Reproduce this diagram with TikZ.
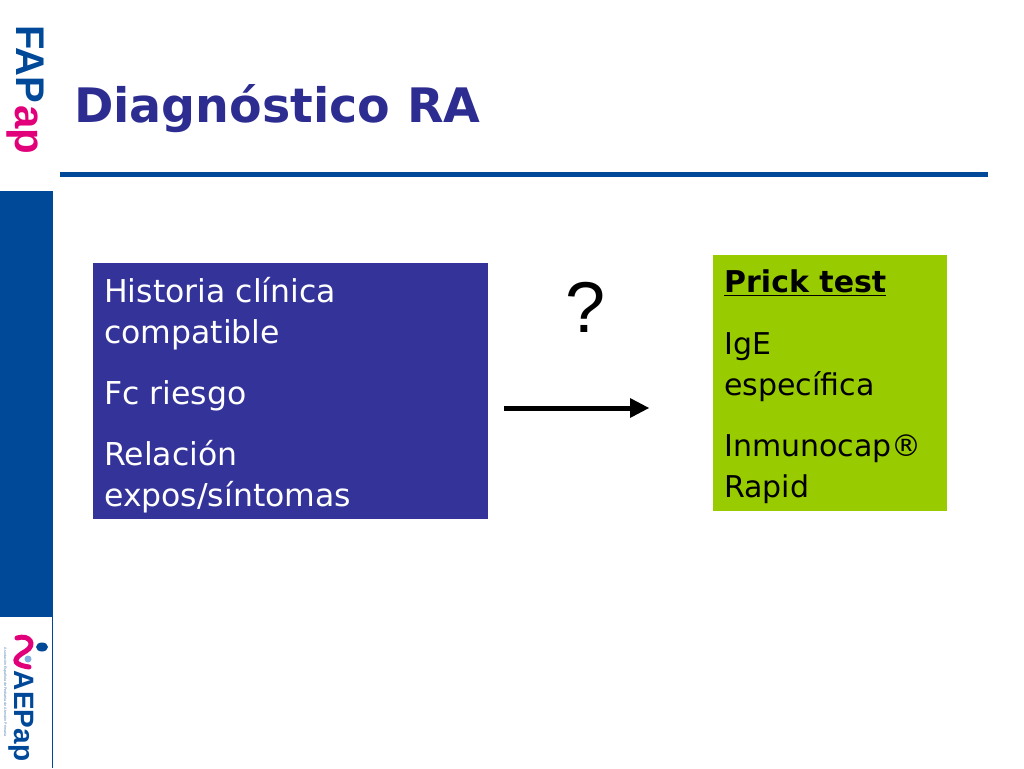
\documentclass[tikz,border=0pt]{standalone}
\usepackage{fontspec}
\usepackage{tikz}
\setmainfont{DejaVu Sans}
\newfontfamily\arialfont{Liberation Sans}
\definecolor{fapblue}{RGB}{0,72,152}
\definecolor{titleblue}{RGB}{45,45,145}
\definecolor{boxblue}{RGB}{51,51,153}
\definecolor{boxgreen}{RGB}{153,204,0}
\definecolor{logopink}{RGB}{226,0,122}
\definecolor{logolight}{RGB}{130,175,225}
\tikzset{
  infobox/.style={anchor=north west,inner sep=0pt,align=left,font=\fontsize{31.5}{41}\selectfont},
  logotext/.style={rotate=-90,inner sep=0pt,font=\bfseries}
}

\begin{document}
\begin{tikzpicture}[x=1pt,y=-1pt]
  \useasboundingbox (0,0) rectangle (1024,768);
  % side band and logos
  \fill[fapblue] (0,191) rectangle (52.5,617);
  \draw[fapblue,line width=0.8pt] (52.5,617) -- (52.5,768);
  \node[logotext,text=fapblue,font=\fontsize{40}{40}\selectfont\bfseries\arialfont] (fap) at (30,64) {FAP};
  \node[logotext,text=logopink,font=\fontsize{42}{42}\selectfont\bfseries\arialfont] (ap) at (22,130) {ap};
  \node[logotext,text=fapblue,font=\fontsize{28}{28}\selectfont\bfseries\arialfont] (aepap) at (21,716) {AEPap};
  \node[logotext,text=fapblue!70,font=\fontsize{3.6}{4}\selectfont\arialfont] (aso) at (5,692) {Asociación Española de Pediatría de Atención Primaria};
  \draw[logopink,line width=5pt,line cap=round] (17,638) .. controls (30,634) and (36,645) .. (26,651) .. controls (15,657) and (9,664) .. (29,667);
  \fill[logolight] (28,659) circle (3.5pt);
  \fill[fapblue] (42,647) ellipse (6pt and 4.5pt);
  % title
  \node[anchor=base west,inner sep=0pt,text=titleblue,font=\fontsize{47.5}{47.5}\selectfont\bfseries] (title) at (74,122) {Diagnóstico RA};
  \coordinate (ruleleft) at (60,174.5);
  \coordinate (ruleright) at (988,174.5);
  \draw[fapblue,line width=4.5pt] (ruleleft) -- (ruleright);
  % boxes
  \fill[boxblue] (92.5,263) rectangle (488,519);
  \node[infobox,text=white] (historia) at (104,277) {Historia clínica\\compatible\\[20pt]Fc riesgo\\[20pt]Relación\\expos/síntomas};
  \fill[boxgreen] (713,255) rectangle (947,511);
  \node[infobox,text=black,font=\fontsize{30}{41}\selectfont] (prick) at (724,270) {\underline{\textbf{Prick test}}\\[20pt]IgE\\específica\\[20pt]Inmunocap®\\Rapid};
  % arrow
  \node[font=\fontsize{72}{72}\selectfont\arialfont,inner sep=0pt] (question) at (586,307) {?};
  \coordinate (arrowstart) at (504,408);
  \coordinate (arrowend) at (649,408);
  \draw[line width=5pt] (arrowstart) -- (630,408);
  \fill (630,398) -- (arrowend) -- (630,418) -- cycle;
\end{tikzpicture}
\end{document}
